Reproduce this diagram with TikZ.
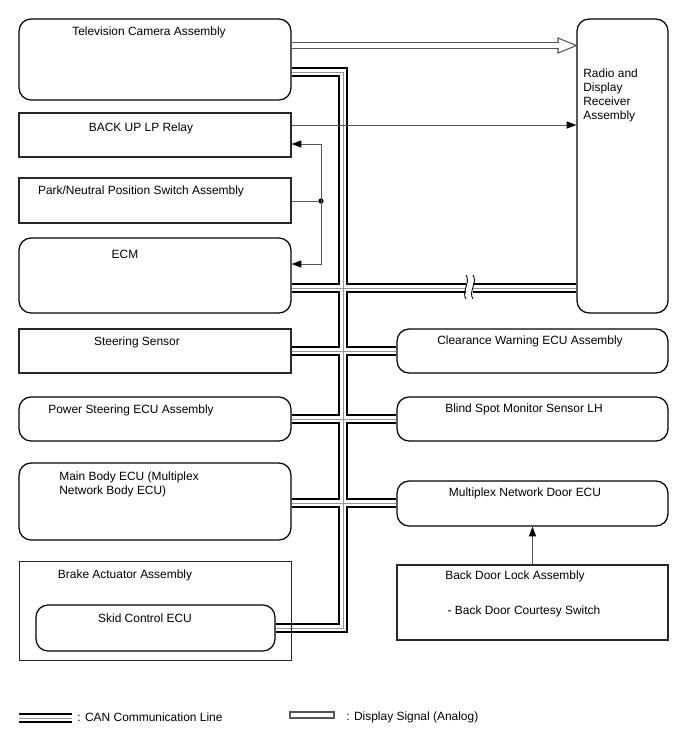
\documentclass[tikz,border=0pt]{standalone}
\usepackage{fontspec}
\setmainfont{Liberation Sans}
\usepackage{tikz}
\usepackage{xcolor}
\definecolor{signalgray}{RGB}{85, 85, 85}
\definecolor{busgray}{RGB}{150, 150, 150}
\definecolor{boxgray}{RGB}{40, 40, 40}
\usetikzlibrary{arrows.meta,calc}

\begin{document}
\begin{tikzpicture}[x=0.02cm, y=-0.02cm,
    every node/.style={font=\fontsize{6.8}{7.9}\selectfont, inner sep=0pt},
    unit/.style={draw=boxgray, line width=0.7pt, minimum width=5.44cm},
    ecu/.style={unit, draw=black, rounded corners=0.24cm},
    sig/.style={signalgray, line width=0.5pt},
    tip/.style={-{Triangle[length=5.5pt, width=4pt, color=black]}}]
    \useasboundingbox (0,0) rectangle (688,755);

    % Left column units
    \node[ecu, minimum height=1.62cm] (cam) at (155,59.5) {};
    \node[unit, minimum height=0.88cm] (relay) at (155,135) {};
    \node[unit, minimum height=0.9cm] (park) at (155,200.5) {};
    \node[ecu, minimum height=1.5cm] (ecm) at (155,275.5) {};
    \node[unit, minimum height=0.88cm] (steer) at (155,351) {};
    \node[ecu, minimum height=0.88cm] (pwr) at (155,419) {};
    \node[ecu, minimum height=1.54cm] (body) at (155,501.5) {};
    \node[ecu, minimum width=4.78cm, minimum height=0.92cm] (skid) at (155.5,628) {};

    \node (camT) at (149,32.5) {Television Camera Assembly};
    \node (relayT) at (141,128.5) {BACK UP LP Relay};
    \node (parkT) at (141,191.5) {Park/Neutral Position Switch Assembly};
    \node (ecmT) at (125,254.5) {ECM};
    \node (steerT) at (137,342.5) {Steering Sensor};
    \node (pwrT) at (131,410.5) {Power Steering ECU Assembly};
    \node[anchor=west, align=left] (bodyT) at (59,484.5) {Main Body ECU (Multiplex\\Network Body ECU)};
    \node (brakeT) at (125,575.5) {Brake Actuator Assembly};
    \node (skidT) at (145,618.5) {Skid Control ECU};

    % Right column units
    \node[ecu, minimum width=1.82cm, minimum height=5.88cm] (radio) at (622.5,166) {};
    \node[ecu, minimum width=5.42cm, minimum height=0.88cm] (clear) at (532.5,351) {};
    \node[ecu, minimum width=5.42cm, minimum height=0.88cm] (blind) at (532.5,419) {};
    \node[ecu, minimum width=5.42cm, minimum height=0.9cm] (door) at (532.5,503.5) {};
    \node[unit, minimum width=5.42cm, minimum height=1.5cm] (lock) at (532.5,602.5) {};

    \node[anchor=west, align=left] (radioT) at (583,95.5) {Radio and\\Display\\Receiver\\Assembly};
    \node (clearT) at (530,341.5) {Clearance Warning ECU Assembly};
    \node (blindT) at (524,409.5) {Blind Spot Monitor Sensor LH};
    \node (doorT) at (525,493.5) {Multiplex Network Door ECU};
    \node (lockT) at (515,576.5) {Back Door Lock Assembly};
    \node (lockT2) at (524,611.5) {- Back Door Courtesy Switch};

    % CAN bus
    \coordinate (busTop) at (343,72);
    \coordinate (busBot) at (343,628);
    \coordinate (ecmTap) at (343,288);
    \coordinate (bodyTap) at (343,503);
    \coordinate (canL) at (19,718);
    \coordinate (canR) at (72,718);
    \foreach \lw/\lc in {5.6pt/black, 3.4pt/white, 0.4pt/busgray} {
        \draw[line width=\lw, \lc] (cam.east |- busTop) -- (busTop) -- (busBot) -- (skid.east |- busBot);
        \draw[line width=\lw, \lc] (ecm.east |- ecmTap) -- (radio.west |- ecmTap);
        \draw[line width=\lw, \lc] (steer.east) -- (clear.west);
        \draw[line width=\lw, \lc] (pwr.east) -- (blind.west);
        \draw[line width=\lw, \lc] (body.east |- bodyTap) -- (door.west |- bodyTap);
        \draw[line width=\lw, \lc] (canL) -- (canR);
    }

    % Line break mark
    \fill[white] (466,280) rectangle (473,296);
    \draw[line width=0.5pt] (466,275) .. controls (471,282) and (461,292) .. (466,299);
    \draw[line width=0.5pt] (473,275) .. controls (478,282) and (468,292) .. (473,299);

    \node[unit, line width=0.5pt, minimum height=1.98cm] (brake) at (155,610.5) {};

    % Display signal (analog)
    \coordinate (dispHead) at (558.5,45.5);
    \draw[signalgray, line width=0.6pt, fill=white] (558,38) -- (radio.west |- dispHead) -- (558,53) -- cycle;
    \draw[signalgray, line width=0.6pt, double=white, double distance=2.6pt] (cam.east |- dispHead) -- (dispHead);

    % Discrete signals
    \draw[sig, tip] (relay.east |- 0,125) -- (radio.west |- 0,125);
    \node[circle, fill=black, minimum size=3pt] (pdot) at (321,201) {};
    \draw[sig] (park.east |- pdot) -- (pdot);
    \draw[sig, tip] (pdot.center) |- (relay.east |- 0,144);
    \draw[sig, tip] (pdot.center) |- (ecm.east |- 0,264);
    \draw[sig, tip] (lock.north) -- (door.south);

    % Legend
    \node[anchor=west] (canT) at (77,717) {: CAN Communication Line};
    \node[draw=signalgray, line width=0.6pt, minimum width=0.88cm, minimum height=0.12cm] (dispKey) at (312,715) {};
    \node[anchor=west] (dispT) at (346,717) {: Display Signal (Analog)};
\end{tikzpicture}
\end{document}
